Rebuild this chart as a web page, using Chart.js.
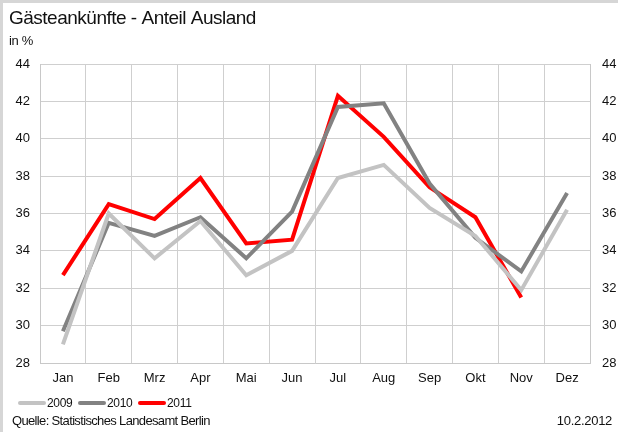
<!DOCTYPE html>
<html>
<head>
<meta charset="utf-8">
<script src="https://cdn.jsdelivr.net/npm/chart.js@4.4.0/dist/chart.umd.min.js"></script>
<style>
  html, body { margin: 0; padding: 0; background: #fff; }
  #wrap { width: 618px; height: 432px; position: relative; }
</style>
</head>
<body>
<div id="wrap"><canvas id="myChart" width="618" height="432"></canvas></div>
<script>
const months = ['Jan', 'Feb', 'Mrz', 'Apr', 'Mai', 'Jun', 'Jul', 'Aug', 'Sep', 'Okt', 'Nov', 'Dez']
const years = ['2009', '2010', '2011']
const v2009 = [29.0, 36.0, 33.6, 35.6, 32.7, 34.0, 37.9, 38.6, 36.3, 34.8, 31.9, 36.2]
const v2010 = [29.7, 35.5, 34.8, 35.8, 33.6, 36.1, 41.7, 41.9, 37.6, 34.7, 32.9, 37.1]
const v2011 = [32.7, 36.5, 35.7, 37.9, 34.4, 34.6, 42.3, 40.1, 37.4, 35.8, 31.5, null]
const yMin = 28
const yMax = 44
const yStep = 2

const FONT = "'Liberation Sans', Arial, sans-serif"

// texte, rahmen und legende
const extras = {
    id: 'extras',
    afterDraw(chart) {
        const c = chart.ctx
        c.save()
        c.fillStyle = '#d6d6d6'
        c.fillRect(0, 0, 618, 3)
        c.fillRect(0, 0, 3, 432)

        c.fillStyle = '#111'
        c.textBaseline = 'alphabetic'
        c.textAlign = 'left'
        c.font = '19px ' + FONT
        c.letterSpacing = '-0.5px'
        c.fillText('Gästeankünfte - Anteil Ausland', 9, 24)
        c.font = '13px ' + FONT
        c.letterSpacing = '-0.3px'
        c.fillText('in %', 9, 45)
        c.letterSpacing = '-0.65px'
        c.fillText('Quelle: Statistisches Landesamt Berlin', 12, 425)
        c.textAlign = 'right'
        c.letterSpacing = '-0.3px'
        c.fillText('10.2.2012', 612, 425)

        // legende
        let x = 18
        c.textAlign = 'left'
        c.textBaseline = 'middle'
        c.font = '12px ' + FONT
        c.letterSpacing = '-0.3px'
        chart.data.datasets.forEach(function(ds){
            c.strokeStyle = ds.borderColor
            c.lineWidth = 4
            c.lineCap = 'round'
            c.beginPath()
            c.moveTo(x + 2, 403)
            c.lineTo(x + 26, 403)
            c.stroke()
            c.fillStyle = '#111'
            c.fillText(ds.label, x + 29, 404)
            x += 60
        })
        c.restore()
    }
}

const diagramm = () =>{
    const ctx = document.getElementById('myChart').getContext('2d')

    const mk = (label, data, color) => ({
        label: label,
        data: data,
        borderColor: color,
        backgroundColor: color,
        borderWidth: 4,
        pointRadius: 0,
        tension: 0,
        spanGaps: false,
        yAxisID: 'y'
    })

    const data = {
        labels: months,
        datasets: [
            mk(years[0], v2009, '#c3c3c3'),
            mk(years[1], v2010, '#828282'),
            mk(years[2], v2011, '#ff0000'),
        ]
    }

    const tickFont = { family: FONT, size: 13 }

    const config = {
        type: 'line',
        data: data,
        options: {
            responsive: false,
            animation: false,
            layout: { padding: { top: 64, bottom: 41, left: 0, right: 0 } },
            plugins: {
                legend: { display: false },
                tooltip: { enabled: false },
                title: { display: false }
            },
            scales: {
                x: {
                    offset: true,
                    grid: { offset: true, color: '#cfcfcf', lineWidth: 1, drawTicks: false },
                    border: { color: '#c8c8c8', width: 1 },
                    ticks: { color: '#111', font: tickFont, padding: 8, maxRotation: 0 },
                    afterFit(scale){ scale.height = 28 }
                },
                y: {
                    position: 'left',
                    min: yMin,
                    max: yMax,
                    grid: { color: '#cfcfcf', lineWidth: 1, drawTicks: false },
                    border: { color: '#c8c8c8', width: 1 },
                    ticks: { stepSize: yStep, color: '#111', font: tickFont, padding: 10 },
                    afterFit(scale){ scale.width = 40 }
                },
                y1: {
                    position: 'right',
                    min: yMin,
                    max: yMax,
                    grid: { display: false, drawTicks: false },
                    border: { color: '#c8c8c8', width: 1 },
                    ticks: { stepSize: yStep, color: '#111', font: tickFont, padding: 12 },
                    afterFit(scale){ scale.width = 28 }
                }
            }
        },
        plugins: [extras]
    }

    const myChart = new Chart(ctx, config)
}

diagramm()
</script>
</body>
</html>
